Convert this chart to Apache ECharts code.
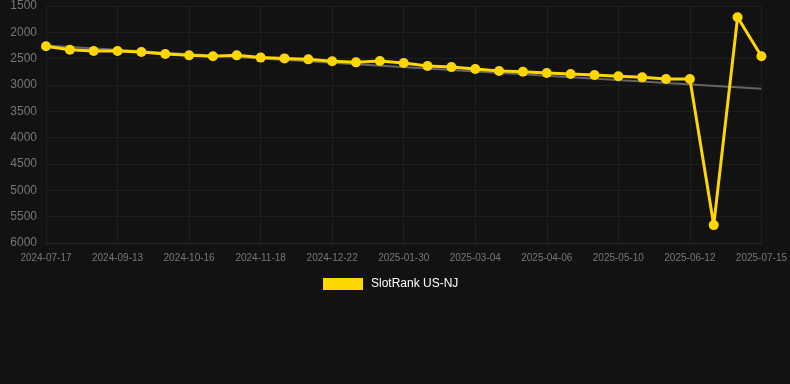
<!DOCTYPE html>
<html>
<head>
<meta charset="utf-8">
<script src="https://cdn.jsdelivr.net/npm/echarts@6/dist/echarts.min.js"></script>
<style>
html,body{margin:0;padding:0;background:#121212;}
#c{width:790px;height:384px;}
</style>
</head>
<body>
<div id="c"></div>
<script>
var categories = ["2024-07-17","2024-08-05","2024-08-25","2024-09-13","2024-09-24","2024-10-05","2024-10-16","2024-10-27","2024-11-07","2024-11-18","2024-11-29","2024-12-10","2024-12-22","2025-01-04","2025-01-17","2025-01-30","2025-02-10","2025-02-21","2025-03-04","2025-03-15","2025-03-26","2025-04-06","2025-04-17","2025-04-28","2025-05-10","2025-05-21","2025-06-01","2025-06-12","2025-06-23","2025-07-04","2025-07-15"];
var rankValues = [2265,2330,2355,2355,2375,2410,2437,2455,2437,2480,2495,2513,2550,2570,2545,2582,2640,2660,2697,2735,2747,2772,2792,2810,2835,2855,2887,2887,5660,1715,2455];
var trendEnds = [2250, 3070];
var yTicks = {min:1500, max:6000, interval:500};
var seriesName = "SlotRank US-NJ";

var chart = echarts.init(document.getElementById('c'), null, {renderer:'canvas'});
chart.setOption({
  backgroundColor:'#121212',
  animation:false,
  grid:{left:46,right:28,top:6,bottom:141},
  legend:{
    top:273,left:318,
    data:[seriesName],
    icon:'rect',itemWidth:40,itemHeight:12,itemGap:10,
    textStyle:{color:'#ffffff',fontSize:12,padding:[0,0,0,3],fontFamily:'Arial, Liberation Sans, sans-serif'}
  },
  xAxis:{
    type:'category',data:categories,boundaryGap:false,
    axisLine:{show:true,lineStyle:{color:'#2a2a2a'}},
    axisTick:{show:false},
    axisLabel:{interval:2,color:'#777',fontSize:10,margin:10,fontFamily:'Arial, Liberation Sans, sans-serif'},
    splitLine:{show:true,interval:2,lineStyle:{color:'#1e1e1e'}}
  },
  yAxis:{
    type:'value',inverse:true,min:yTicks.min,max:yTicks.max,interval:yTicks.interval,
    axisLine:{show:false},axisTick:{show:false},
    axisLabel:{color:'#777',fontSize:12,margin:9,formatter:function(v){return String(v);},fontFamily:'Arial, Liberation Sans, sans-serif'},
    splitLine:{lineStyle:{color:'#1e1e1e'}}
  },
  series:[{
    name:seriesName,type:'line',data:rankValues,
    color:'#FFD700',
    symbol:'circle',symbolSize:10,
    lineStyle:{width:3,color:'#FFD700'},
    itemStyle:{color:'#FFD700'},
    z:3,
    markLine:{
      silent:true,symbol:'none',label:{show:false},
      lineStyle:{color:'#666',width:2,type:'solid'},
      data:[[{coord:[categories[0],trendEnds[0]]},{coord:[categories[categories.length-1],trendEnds[1]]}]],
      z:2
    }
  }]
});
</script>
</body>
</html>
